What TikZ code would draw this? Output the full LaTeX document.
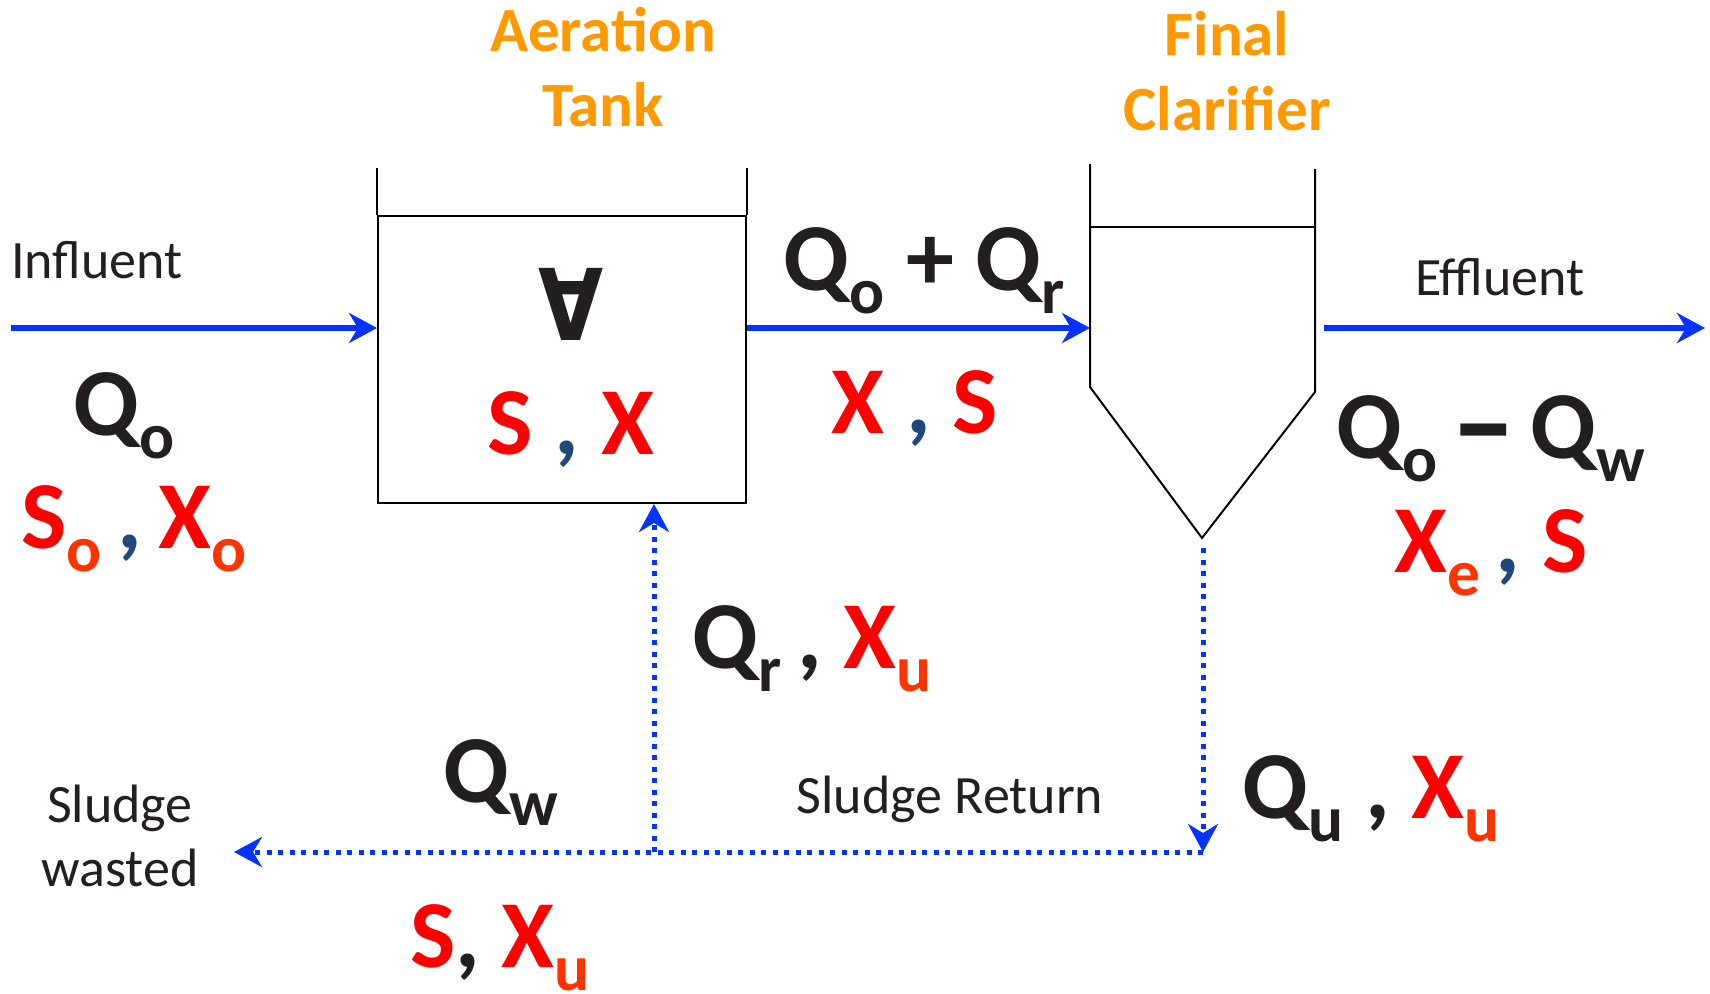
\documentclass[tikz,border=0pt]{standalone}
\usepackage{fontspec}
\setmainfont{Carlito}
\newfontfamily\symfont{DejaVu Sans}
\usetikzlibrary{arrows.meta}
\definecolor{ink}{HTML}{231F20}
\definecolor{vred}{HTML}{FF0000}
\definecolor{sred}{HTML}{FF3300}
\definecolor{cblue}{HTML}{1F497D}
\definecolor{orng}{HTML}{FF9900}
\definecolor{fblue}{HTML}{0433FF}
\newcommand\lo[1]{\raisebox{-0.24em}{\scalebox{0.68}{#1}}}
\newcommand\cm{{\color{cblue},}}
\newcommand\bigdash{\raisebox{-11pt}{\scalebox{1.35}[1.45]{–}}}
\begin{document}
\begin{tikzpicture}[x=1pt,y=-1pt,
  big/.style={inner sep=0pt,anchor=base,font=\fontsize{96}{110}\selectfont\bfseries,text=ink},
  small/.style={inner sep=0pt,anchor=base,font=\fontsize{54}{64}\selectfont,text=ink},
  title/.style={inner sep=0pt,anchor=base,align=center,font=\fontsize{63}{75}\selectfont\bfseries,text=orng},
  vessel/.style={draw=black,line width=2pt},
  flow/.style={draw=fblue,line width=5.5pt,-{Stealth[length=28pt,width=30pt,inset=9pt]}},
  ret/.style={draw=fblue,line width=5pt,dash pattern=on 5pt off 6.5pt,-{Stealth[length=28pt,width=30pt,inset=9pt]}}]
\useasboundingbox (0,0) rectangle (1710,993);
% aeration tank
\node[vessel,minimum width=368pt,minimum height=287pt,inner sep=0pt] (tank) at (562,359.5) {};
\draw[vessel] (tank.north west) -- ++(0,-47);
\draw[vessel] (tank.north east) -- ++(0,-47);
% clarifier
\coordinate (cl1) at (1090,164);
\coordinate (cl2) at (1090,387);
\coordinate (ctip) at (1202,538);
\coordinate (cr2) at (1315,392);
\coordinate (cr1) at (1315,169);
\draw[black,line width=2pt,line join=miter] (cl1) -- (cl2) -- (ctip) -- (cr2) -- (cr1);
\draw[black,line width=2pt] (1090,227) -- (1315,227);
% flows
\coordinate (inStart) at (11,328);
\coordinate (clarIn) at (1090,328);
\coordinate (clarOut) at (1324,328);
\coordinate (effEnd) at (1705,328);
\draw[flow] (inStart) -- (inStart -| tank.west);
\draw[flow] (clarIn -| tank.east) -- (clarIn);
\draw[flow] (clarOut) -- (effEnd);
% return / waste
\coordinate (retStart) at (1203,548);
\coordinate (corner) at (1203,852);
\coordinate (junction) at (654,852);
\coordinate (wasteEnd) at (234,852);
\draw[ret] (retStart) -- (corner);
\draw[ret] (corner) -- (wasteEnd);
\draw[ret] (junction) -- (junction |- tank.south);
% titles (base anchor = last line)
\node[title] (t1) at (603,126) {Aeration\\Tank};
\node[title] (t2) at (1227,130) {Final\\Clarifier};
% labels
\node[small] (lin) at (97,278) {Influent};
\node[small] (leff) at (1500,295) {Effluent};
\node[small] (lret) at (950,813) {Sludge Return};
\node[small,align=center] (lwas) at (120,886) {Sludge\\wasted};
\node[big] (qo) at (124,435) {Q\lo{o}};
\node[big,text=vred] (sxo) at (134,548) {S\lo{\color{sred}o}\,\cm\,X\lo{\color{sred}o}};
\node[font=\symfont\bfseries\fontsize{99}{110}\selectfont,text=ink,inner sep=0pt,xscale=0.85] (vol) at (571,304) {∀};
\node[big,text=vred] (sx) at (571,454) {S \cm\ X};
\node[big] (qor) at (924,290) {Q\lo{o} + Q\lo{r}};
\node[big,text=vred] (xs) at (915,433) {X \cm\ S};
\node[big] (qow) at (1491,458) {Q\lo{o}\hspace{0.15em}\bigdash\hspace{0.15em}Q\lo{w}};
\node[big,text=vred] (xes) at (1491,572) {X\lo{\color{sred}e}\,\cm\ S};
\node[big] (qrxu) at (812,668) {Q\lo{r}\,, {\color{vred}X\lo{\color{sred}u}}};
\node[big] (qw) at (501,802) {Q\lo{w}};
\node[big] (quxu) at (1371,818) {Q\lo{u} , {\color{vred}X\lo{\color{sred}u}}};
\node[big,text=vred] (sxu) at (500,967) {S{\color{ink},} X\lo{\color{sred}u}};
\end{tikzpicture}
\end{document}
